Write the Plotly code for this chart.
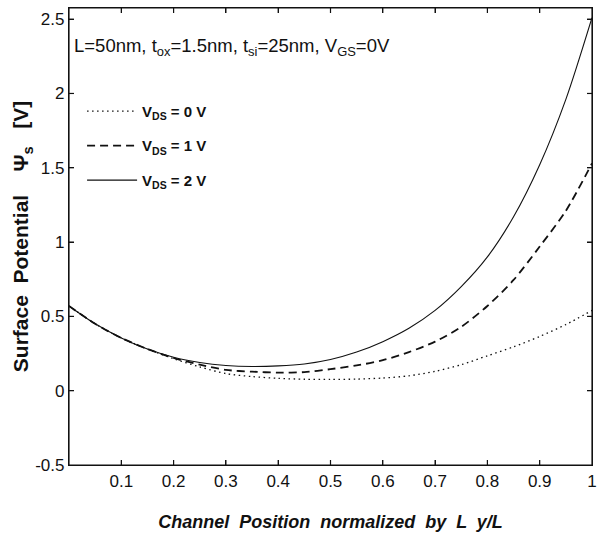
import plotly.graph_objects as go

# normalized channel position y/L
x_pos = [0.0, 0.05, 0.10, 0.15, 0.20, 0.25, 0.30, 0.35, 0.40, 0.45, 0.50,
         0.55, 0.60, 0.65, 0.70, 0.75, 0.80, 0.85, 0.90, 0.95, 1.00]

# surface potential [V] for each drain bias
psi_vds0 = [0.57, 0.45, 0.355, 0.28, 0.215, 0.16, 0.115, 0.095, 0.083, 0.077, 0.076,
            0.078, 0.085, 0.10, 0.13, 0.175, 0.235, 0.295, 0.365, 0.445, 0.54]
psi_vds1 = [0.57, 0.45, 0.355, 0.28, 0.22, 0.175, 0.14, 0.128, 0.122, 0.125, 0.145,
            0.17, 0.205, 0.26, 0.33, 0.43, 0.57, 0.745, 0.97, 1.21, 1.53]
psi_vds2 = [0.57, 0.45, 0.355, 0.28, 0.225, 0.19, 0.17, 0.163, 0.167, 0.18, 0.21,
            0.26, 0.33, 0.42, 0.54, 0.70, 0.90, 1.17, 1.52, 1.96, 2.51]

series_names = ["V<sub>DS</sub> = 0 V", "V<sub>DS</sub> = 1 V", "V<sub>DS</sub> = 2 V"]
x_ticks = [0.1, 0.2, 0.3, 0.4, 0.5, 0.6, 0.7, 0.8, 0.9, 1.0]
x_tick_text = ["0.1", "0.2", "0.3", "0.4", "0.5", "0.6", "0.7", "0.8", "0.9", "1"]
y_ticks = [-0.5, 0, 0.5, 1, 1.5, 2, 2.5]
y_tick_text = ["-0.5", "0", "0.5", "1", "1.5", "2", "2.5"]

X_RANGE = [0.0, 1.0]
Y_RANGE = [-0.5, 2.575]

FONT = "Liberation Sans, Arial, sans-serif"
INK = "#111111"

W, H = 603, 536
MARGIN = dict(l=69, r=6, t=8, b=71)
plot_w = W - MARGIN["l"] - MARGIN["r"]
plot_h = H - MARGIN["t"] - MARGIN["b"]

fig = go.Figure()
styles = [dict(dash="1.5px,3.5px", width=1.3), dict(dash="8px,5px", width=1.8), dict(dash="solid", width=1.1)]
for i, (name, ys) in enumerate(zip(series_names, [psi_vds0, psi_vds1, psi_vds2])):
    fig.add_trace(go.Scatter(
        x=x_pos, y=ys, mode="lines", name=name, legendgroup=f"g{i}",
        line=dict(color=INK, shape="spline", smoothing=0.8, **styles[i]),
    ))

# axes box with mirrored inside ticks, derived from the axis ranges and tick lists
x0, x1 = X_RANGE
y0, y1 = Y_RANGE
dx = 5 * (x1 - x0) / plot_w
dy = 5 * (y1 - y0) / plot_h
fx = [x0, x1, x1, x0, x0, None]
fy = [y0, y0, y1, y1, y0, None]
for xt in x_ticks:
    if x0 < xt < x1:
        fx += [xt, xt, None, xt, xt, None]
        fy += [y0, y0 + dy, None, y1, y1 - dy, None]
for yt in y_ticks:
    if y0 < yt < y1:
        fx += [x0, x0 + dx, None, x1, x1 - dx, None]
        fy += [yt, yt, None, yt, yt, None]
fig.add_trace(go.Scatter(
    x=fx, y=fy, mode="lines", showlegend=False, hoverinfo="skip",
    line=dict(color=INK, width=1.2), cliponaxis=False,
))

axis_common = dict(
    ticks="inside", ticklen=5, tickwidth=1.2, tickcolor=INK,
    showline=True, linecolor=INK, linewidth=1.3, mirror="allticks",
    showgrid=False, zeroline=False, tickfont=dict(size=17),
)

fig.update_layout(
    width=W, height=H,
    margin=MARGIN,
    paper_bgcolor="white", plot_bgcolor="white",
    font=dict(family=FONT, color=INK, size=17),
    showlegend=True,
    legend=dict(
        x=0.025, y=0.81, xanchor="left", yanchor="top",
        bgcolor="rgba(0,0,0,0)", borderwidth=0,
        font=dict(family=FONT, size=15, color=INK, weight="bold"),
        tracegroupgap=12, itemwidth=50,
    ),
    xaxis=dict(
        range=X_RANGE, tickvals=x_ticks, ticktext=x_tick_text,
        title=dict(text="Channel  Position  normalized  by  L  y/L", standoff=25,
                   font=dict(size=18, weight="bold", style="italic")),
        **axis_common,
    ),
    yaxis=dict(
        range=Y_RANGE, tickvals=y_ticks, ticktext=y_tick_text,
        title=dict(text="Surface  Potential    \u03a8<sub>s</sub>   [V]", standoff=0,
                   font=dict(size=21, weight="bold")),
        **axis_common,
    ),
    annotations=[dict(
        xref="paper", yref="paper", x=0.005, y=0.915, xanchor="left", yanchor="middle",
        text="L=50nm, t<sub>ox</sub>=1.5nm, t<sub>si</sub>=25nm, V<sub>GS</sub>=0V",
        showarrow=False, font=dict(family=FONT, size=18.5, color=INK),
    )],
)

fig.write_html("out.html", config={"displayModeBar": False},
               post_script="document.body.style.margin='0';")
